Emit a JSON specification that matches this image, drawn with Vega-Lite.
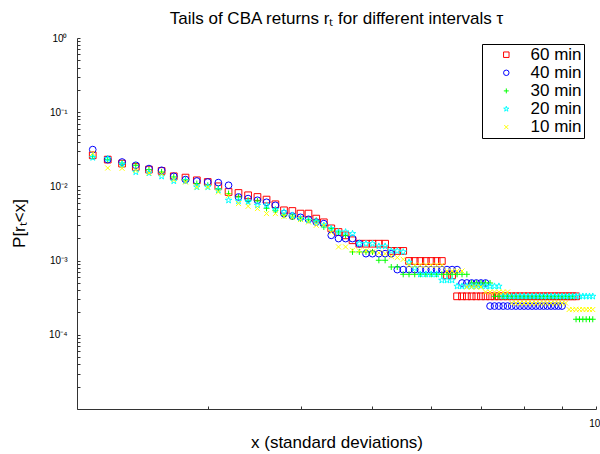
{
  "$schema": "https://vega.github.io/schema/vega-lite/v6.json",
  "autosize": {"type": "none"},
  "padding": {"left": 77, "top": 38, "right": 4, "bottom": 45},
  "width": 519,
  "height": 371,
  "background": "white",
  "title": {"text": "Tails of CBA returns rₜ for different intervals τ", "font": "Liberation Sans", "fontSize": 17, "fontWeight": "normal", "color": "black", "anchor": "middle", "offset": -8, "baseline": "alphabetic"},
  "data": {"values": [
    {"x":2.1,"60 min":0.02625,"40 min":0.03133,"30 min":0.02545,"20 min":0.02444,"10 min":0.02793},
    {"x":2.2,"60 min":0.02297,"40 min":0.02297,"30 min":0.02297,"20 min":0.0237,"10 min":0.0177},
    {"x":2.3,"60 min":0.02029,"40 min":0.02132,"30 min":0.02067,"20 min":0.01967,"10 min":0.01754},
    {"x":2.4,"60 min":0.01826,"40 min":0.01925,"30 min":0.01925,"20 min":0.01564,"10 min":0.01648},
    {"x":2.5,"60 min":0.01684,"40 min":0.01738,"30 min":0.01684,"20 min":0.01516,"10 min":0.01516},
    {"x":2.6,"60 min":0.01613,"40 min":0.01648,"30 min":0.01564,"20 min":0.01368,"10 min":0.01488},
    {"x":2.7,"60 min":0.01368,"40 min":0.01368,"30 min":0.01339,"20 min":0.01183,"10 min":0.01235},
    {"x":2.8,"60 min":0.01314,"40 min":0.01235,"30 min":0.01235,"20 min":0.01183,"10 min":0.01146},
    {"x":2.9,"60 min":0.01208,"40 min":0.01183,"30 min":0.01091,"20 min":0.00982,"10 min":0.00982},
    {"x":3.0,"60 min":0.01146,"40 min":0.01146,"30 min":0.01035,"20 min":0.00982,"10 min":0.00982},
    {"x":3.1,"60 min":0.01003,"40 min":0.01125,"30 min":0.00934,"20 min":0.00886,"10 min":0.00841},
    {"x":3.2,"60 min":0.00841,"40 min":0.01035,"30 min":0.008,"20 min":0.0065,"10 min":0.00759},
    {"x":3.3,"60 min":0.00815,"40 min":0.0072,"30 min":0.0072,"20 min":0.00636,"10 min":0.00587},
    {"x":3.4,"60 min":0.00759,"40 min":0.00685,"30 min":0.0065,"20 min":0.00616,"10 min":0.00539},
    {"x":3.5,"60 min":0.0072,"40 min":0.0065,"30 min":0.00636,"20 min":0.00556,"10 min":0.00502},
    {"x":3.6,"60 min":0.00664,"40 min":0.00611,"30 min":0.00507,"20 min":0.00556,"10 min":0.0043},
    {"x":3.7,"60 min":0.00574,"40 min":0.00556,"30 min":0.00476,"20 min":0.00487,"10 min":0.0043},
    {"x":3.8,"60 min":0.00476,"40 min":0.0043,"30 min":0.00408,"20 min":0.00452,"10 min":0.00395},
    {"x":3.9,"60 min":0.00466,"40 min":0.00399,"30 min":0.00387,"20 min":0.00408,"10 min":0.0038},
    {"x":4.0,"60 min":0.0043,"40 min":0.00383,"30 min":0.00368,"20 min":0.00368,"10 min":0.00357},
    {"x":4.1,"60 min":0.0043,"40 min":0.0036,"30 min":0.00357,"20 min":0.00349,"10 min":0.00331},
    {"x":4.2,"60 min":0.00368,"40 min":0.00331,"30 min":0.00349,"20 min":0.00331,"10 min":0.00299},
    {"x":4.3,"60 min":0.00328,"40 min":0.00315,"30 min":0.00284,"20 min":0.00299,"10 min":0.00299},
    {"x":4.4,"60 min":0.00272,"40 min":0.00219,"30 min":0.0027,"20 min":0.0027,"10 min":0.00241},
    {"x":4.5,"60 min":0.00243,"40 min":0.00198,"30 min":0.00243,"20 min":0.00243,"10 min":0.00153},
    {"x":4.6,"60 min":0.00219,"40 min":0.00198,"30 min":0.00219,"20 min":0.00243,"10 min":0.00153},
    {"x":4.7,"60 min":0.00188,"40 min":0.00198,"30 min":0.00131,"20 min":0.00231,"10 min":0.00138},
    {"x":4.8,"60 min":0.00169,"40 min":0.00169,"30 min":0.00131,"20 min":0.00169,"10 min":0.00135},
    {"x":4.9,"60 min":0.00169,"40 min":0.00124,"30 min":0.00131,"20 min":0.00169,"10 min":0.00135},
    {"x":5.0,"60 min":0.00169,"40 min":0.00124,"30 min":0.00131,"20 min":0.00169,"10 min":0.00131},
    {"x":5.1,"60 min":0.00169,"40 min":0.00124,"30 min":0.00101,"20 min":0.00156,"10 min":0.00127},
    {"x":5.2,"60 min":0.00169,"40 min":0.00124,"30 min":0.00101,"20 min":0.00156,"10 min":0.00124},
    {"x":5.3,"60 min":0.00135,"40 min":0.00124,"30 min":0.00082,"20 min":0.00135,"10 min":0.00114},
    {"x":5.4,"60 min":0.00135,"40 min":0.000756,"30 min":0.00082,"20 min":0.00135,"10 min":0.0011},
    {"x":5.5,"60 min":0.00135,"40 min":0.000756,"30 min":0.000654,"20 min":0.00131,"10 min":0.00104},
    {"x":5.6,"60 min":0.000988,"40 min":0.000756,"30 min":0.000654,"20 min":0.000949,"10 min":0.000865},
    {"x":5.7,"60 min":0.000988,"40 min":0.000756,"30 min":0.000654,"20 min":0.000788,"10 min":0.000865},
    {"x":5.8,"60 min":0.000988,"40 min":0.000756,"30 min":0.000654,"20 min":0.000654,"10 min":0.000865},
    {"x":5.9,"60 min":0.000988,"40 min":0.000756,"30 min":0.000654,"20 min":0.000654,"10 min":0.000865},
    {"x":6.0,"60 min":0.000988,"40 min":0.000756,"30 min":0.000654,"20 min":0.000654,"10 min":0.000865},
    {"x":6.1,"60 min":0.000988,"40 min":0.000756,"30 min":0.000654,"20 min":0.000654,"10 min":0.000865},
    {"x":6.2,"60 min":0.000988,"40 min":0.000756,"30 min":0.000654,"20 min":0.000543,"10 min":0.000865},
    {"x":6.3,"60 min":0.000634,"40 min":0.000756,"30 min":0.000654,"20 min":0.000543,"10 min":0.000724},
    {"x":6.4,"60 min":0.000634,"40 min":0.000756,"30 min":0.000654,"20 min":0.000543,"10 min":0.000724},
    {"x":6.5,"60 min":0.00033,"40 min":0.000756,"30 min":0.000654,"20 min":0.000451,"10 min":0.000724},
    {"x":6.6,"60 min":0.00033,"40 min":0.000499,"30 min":0.000654,"20 min":0.000451,"10 min":0.000724},
    {"x":6.7,"60 min":0.00033,"40 min":0.000499,"30 min":0.000654,"20 min":0.000451,"10 min":0.000441},
    {"x":6.8,"60 min":0.00033,"40 min":0.000499,"30 min":0.000499,"20 min":0.000451,"10 min":0.000441},
    {"x":6.9,"60 min":0.00033,"40 min":0.000499,"30 min":0.000499,"20 min":0.000451,"10 min":0.000441},
    {"x":7.0,"60 min":0.00033,"40 min":0.000499,"30 min":0.000499,"20 min":0.000451,"10 min":0.000441},
    {"x":7.1,"60 min":0.00033,"40 min":0.000499,"30 min":0.000499,"20 min":0.000451,"10 min":0.000377},
    {"x":7.2,"60 min":0.00033,"40 min":0.000244,"30 min":0.000499,"20 min":0.000451,"10 min":0.000377},
    {"x":7.3,"60 min":0.00033,"40 min":0.000244,"30 min":0.00033,"20 min":0.000451,"10 min":0.000377},
    {"x":7.4,"60 min":0.00033,"40 min":0.000244,"30 min":0.00033,"20 min":0.000451,"10 min":0.000377},
    {"x":7.5,"60 min":0.00033,"40 min":0.000244,"30 min":0.00033,"20 min":0.00033,"10 min":0.000377},
    {"x":7.6,"60 min":0.00033,"40 min":0.000244,"30 min":0.00033,"20 min":0.00033,"10 min":0.000377},
    {"x":7.7,"60 min":0.00033,"40 min":0.000244,"30 min":0.00033,"20 min":0.00033,"10 min":0.000268},
    {"x":7.8,"60 min":0.00033,"40 min":0.000244,"30 min":0.00033,"20 min":0.00033,"10 min":0.000268},
    {"x":7.9,"60 min":0.00033,"40 min":0.000244,"30 min":0.00033,"20 min":0.00033,"10 min":0.000268},
    {"x":8.0,"60 min":0.00033,"40 min":0.000244,"30 min":0.00033,"20 min":0.00033,"10 min":0.000268},
    {"x":8.1,"60 min":0.00033,"40 min":0.000244,"30 min":0.00033,"20 min":0.00033,"10 min":0.000268},
    {"x":8.2,"60 min":0.00033,"40 min":0.000244,"30 min":0.00033,"20 min":0.00033,"10 min":0.000268},
    {"x":8.3,"60 min":0.00033,"40 min":0.000244,"30 min":0.00033,"20 min":0.00033,"10 min":0.000268},
    {"x":8.4,"60 min":0.00033,"40 min":0.000244,"30 min":0.00033,"20 min":0.00033,"10 min":0.000268},
    {"x":8.5,"60 min":0.00033,"40 min":0.000244,"30 min":0.00033,"20 min":0.00033,"10 min":0.000268},
    {"x":8.6,"60 min":0.00033,"40 min":0.000244,"30 min":0.00033,"20 min":0.00033,"10 min":0.000268},
    {"x":8.7,"60 min":0.00033,"40 min":0.000244,"30 min":0.00033,"20 min":0.00033,"10 min":0.000268},
    {"x":8.8,"60 min":0.00033,"40 min":0.000244,"30 min":0.00033,"20 min":0.00033,"10 min":0.000268},
    {"x":8.9,"60 min":0.00033,"40 min":0.000244,"30 min":0.00033,"20 min":0.00033,"10 min":0.000268},
    {"x":9.0,"60 min":0.00033,"40 min":0.000244,"30 min":0.00033,"20 min":0.00033,"10 min":0.000268},
    {"x":9.1,"60 min":0.00033,"40 min":null,"30 min":0.00033,"20 min":0.00033,"10 min":0.000268},
    {"x":9.2,"60 min":0.00033,"40 min":null,"30 min":0.00033,"20 min":0.00033,"10 min":0.000219},
    {"x":9.3,"60 min":0.00033,"40 min":null,"30 min":0.00033,"20 min":0.00033,"10 min":0.000219},
    {"x":9.4,"60 min":0.00033,"40 min":null,"30 min":0.000162,"20 min":0.00033,"10 min":0.000219},
    {"x":9.5,"60 min":null,"40 min":null,"30 min":0.000162,"20 min":0.00033,"10 min":0.000219},
    {"x":9.6,"60 min":null,"40 min":null,"30 min":0.000162,"20 min":0.00033,"10 min":0.000219},
    {"x":9.7,"60 min":null,"40 min":null,"30 min":0.000162,"20 min":0.00033,"10 min":0.000219},
    {"x":9.8,"60 min":null,"40 min":null,"30 min":0.000162,"20 min":0.00033,"10 min":0.000219},
    {"x":9.9,"60 min":null,"40 min":null,"30 min":0.000162,"20 min":0.00033,"10 min":0.000219}
  ]},
  "transform": [
    {"fold": ["60 min", "40 min", "30 min", "20 min", "10 min"], "as": ["series", "p"]}
  ],
  "mark": {"type": "point", "filled": false, "strokeWidth": 1, "size": 45, "opacity": 1},
  "encoding": {
    "x": {"field": "x", "type": "quantitative",
      "scale": {"type": "log", "domain": [2, 10], "nice": false},
      "axis": {"title": "x (standard deviations)", "values": [3,4,5,6,7,8,9,10],
        "labelExpr": "datum.value == 10 ? '10¹' : ''",
        "grid": false, "tickSize": -3, "labelPadding": 12, "labelFlush": false, "labelOverlap": false,
        "labelFont": "Liberation Sans", "labelFontSize": 10, "labelColor": "black",
        "domainColor": "#333", "tickColor": "#333",
        "titleFont": "Liberation Sans", "titleFontSize": 17, "titleFontWeight": "normal", "titleColor": "black",
        "titleX": 259.5, "titleY": 38, "titleAlign": "center", "titleBaseline": "alphabetic"}},
    "y": {"field": "p", "type": "quantitative",
      "scale": {"type": "log", "domain": [0.00001, 1], "nice": false},
      "axis": {"title": "P[rₜ<x]",
        "values": [0.00001,0.00002,0.00003,0.00004,0.00005,0.00006,0.00007,0.00008,0.00009,0.0001,0.0002,0.0003,0.0004,0.0005,0.0006,0.0007,0.0008,0.0009,0.001,0.002,0.003,0.004,0.005,0.006,0.007,0.008,0.009,0.01,0.02,0.03,0.04,0.05,0.06,0.07,0.08,0.09,0.1,0.2,0.3,0.4,0.5,0.6,0.7,0.8,0.9,1],
        "labelExpr": "datum.value == 1 ? '10⁰' : datum.value == 0.1 ? '10⁻¹' : datum.value == 0.01 ? '10⁻²' : datum.value == 0.001 ? '10⁻³' : datum.value == 0.0001 ? '10⁻⁴' : ''",
        "grid": false, "tickSize": -3, "labelPadding": 13, "labelFlush": false, "labelOverlap": false,
        "labelFont": "Liberation Sans", "labelFontSize": 10, "labelColor": "black",
        "domainColor": "#333", "tickColor": "#333",
        "titleFont": "Liberation Sans", "titleFontSize": 17, "titleFontWeight": "normal", "titleColor": "black",
        "titleX": -58, "titleY": 185, "titleAngle": -90, "titleAlign": "center", "titleBaseline": "middle"}},
    "color": {"field": "series", "type": "nominal",
      "scale": {"domain": ["60 min", "40 min", "30 min", "20 min", "10 min"], "range": ["#ff0000", "#0000ff", "#00ff00", "#00ffff", "#ffff00"]},
      "legend": {"title": null, "orient": "none", "legendX": 405, "legendY": 6, "strokeColor": "black", "fillColor": "white", "padding": 2.2, "rowPadding": 0.1, "symbolOffset": 13.6, "labelOffset": 15.7, "symbolSize": 30, "symbolStrokeWidth": 1, "labelFont": "Liberation Sans", "labelFontSize": 17, "labelColor": "black", "labelExpr": "datum.label + '    '"}},
    "shape": {"field": "series", "type": "nominal",
      "scale": {"domain": ["60 min", "40 min", "30 min", "20 min", "10 min"], "range": ["square", "circle", "M-0.9,0L0.9,0M0,-0.9L0,0.9", "M0,-1L0.223,-0.307L0.951,-0.309L0.361,0.117L0.588,0.809L0,0.38L-0.588,0.809L-0.361,0.117L-0.951,-0.309L-0.223,-0.307Z", "M-0.75,-0.75L0.75,0.75M0.75,-0.75L-0.75,0.75"]},
      "legend": {"title": null, "orient": "none", "legendX": 405, "legendY": 6, "strokeColor": "black", "fillColor": "white", "padding": 2.2, "rowPadding": 0.1, "symbolOffset": 13.6, "labelOffset": 15.7, "symbolSize": 30, "symbolStrokeWidth": 1, "labelFont": "Liberation Sans", "labelFontSize": 17, "labelColor": "black", "labelExpr": "datum.label + '    '"}},
    "order": {"field": "series", "type": "ordinal", "sort": "descending"}
  },
  "config": {"view": {"stroke": null}, "font": "Liberation Sans"}
}
